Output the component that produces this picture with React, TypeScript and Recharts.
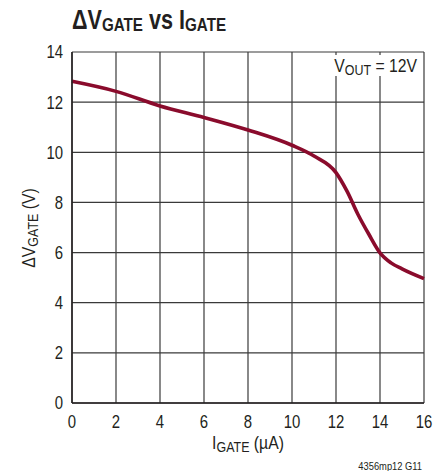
import React from 'react';
import { LineChart, Line, XAxis, YAxis, CartesianGrid, Customized } from 'recharts';

const currentUA = [0, 2, 4, 6, 8, 10, 11, 12, 12.5, 13, 13.5, 14, 14.5, 15, 16];
const deltaVGate = [12.83, 12.43, 11.85, 11.39, 10.89, 10.28, 9.85, 9.19, 8.45, 7.52, 6.72, 5.99, 5.59, 5.35, 4.96];
const xTicks = [0, 2, 4, 6, 8, 10, 12, 14, 16];
const yTicks = [0, 2, 4, 6, 8, 10, 12, 14];

const data = currentUA.map((x, i) => ({ x, y: deltaVGate[i] }));

const FONT = "'Liberation Sans', Arial, sans-serif";
const INK = '#231f20';
const SX = 0.83;

const XTick = (props: any) => {
  const { x, payload } = props;
  return (
    <text
      transform={`translate(${x},428) scale(${SX},1)`}
      textAnchor="middle"
      fontFamily={FONT}
      fontSize={18}
      fill={INK}
    >
      {payload.value}
    </text>
  );
};

const YTick = (props: any) => {
  const { y, payload } = props;
  return (
    <text
      transform={`translate(63,${y}) scale(${SX},1)`}
      textAnchor="end"
      dy="0.355em"
      fontFamily={FONT}
      fontSize={18}
      fill={INK}
    >
      {payload.value}
    </text>
  );
};

const Annotations = () => (
  <g fontFamily={FONT} fill={INK}>
    <text transform={`translate(72,29) scale(0.8,1)`} fontSize={27} fontWeight="bold">
      ΔV<tspan fontSize={19} dy={2}>GATE</tspan>
      <tspan dy={-2} fontSize={27}> vs I</tspan>
      <tspan fontSize={19} dy={2}>GATE</tspan>
    </text>
    <rect x={329} y={55} width={91} height={21} fill="#fff" />
    <text transform={`translate(417,72) scale(${SX},1)`} fontSize={19} textAnchor="end">
      V<tspan fontSize={15} dy={3}>OUT</tspan>
      <tspan dy={-3} fontSize={19}> = 12V</tspan>
    </text>
    <text transform={`translate(248,449) scale(${SX},1)`} fontSize={19} textAnchor="middle">
      I<tspan fontSize={15} dy={3}>GATE</tspan>
      <tspan dy={-3} fontSize={19}> (µA)</tspan>
    </text>
    <text transform={`translate(35,228) rotate(-90) scale(${SX},1)`} fontSize={19} textAnchor="middle">
      ΔV<tspan fontSize={15} dy={3}>GATE</tspan>
      <tspan dy={-3} fontSize={19}> (V)</tspan>
    </text>
    <text transform={`translate(422,470) scale(0.85,1)`} fontSize={11} textAnchor="end">4356mp12 G11</text>
  </g>
);

export default function App() {
  return (
    <div style={{ position: 'absolute', left: 0, top: 0, background: '#fff' }}>
      <LineChart
        width={437}
        height={471}
        data={data}
        margin={{ top: 52, right: 13, left: 0, bottom: 0 }}
      >
        <CartesianGrid stroke="#3a3a3a" strokeWidth={1.2} />
        <XAxis
          dataKey="x"
          type="number"
          domain={[0, 16]}
          ticks={xTicks}
          height={68}
          tickLine={false}
          axisLine={{ stroke: INK, strokeWidth: 1.5 }}
          tick={<XTick />}
          interval={0}
        />
        <YAxis
          type="number"
          domain={[0, 14]}
          ticks={yTicks}
          width={72}
          tickLine={false}
          axisLine={{ stroke: INK, strokeWidth: 1.5 }}
          tick={<YTick />}
          interval={0}
        />
        <Line
          type="monotone"
          dataKey="y"
          stroke="#8a0b2c"
          strokeWidth={3.6}
          dot={false}
          isAnimationActive={false}
        />
        <Customized component={Annotations} />
      </LineChart>
    </div>
  );
}
